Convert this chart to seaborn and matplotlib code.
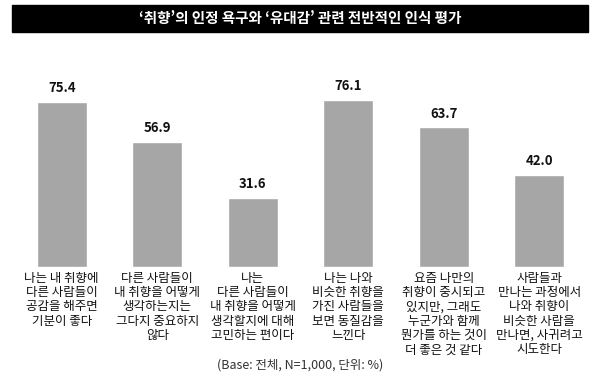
import matplotlib
matplotlib.use("Agg")
import matplotlib.pyplot as plt
import seaborn as sns
import pandas as pd
from matplotlib.patches import Rectangle

categories = [
    "나는 내 취향에\n다른 사람들이\n공감을 해주면\n기분이 좋다",
    "다른 사람들이\n내 취향을 어떻게\n생각하는지는\n그다지 중요하지\n않다",
    "나는\n다른 사람들이\n내 취향을 어떻게\n생각할지에 대해\n고민하는 편이다",
    "나는 나와\n비슷한 취향을\n가진 사람들을\n보면 동질감을\n느낀다",
    "요즘 나만의\n취향이 중시되고\n있지만, 그래도\n누군가와 함께\n뭔가를 하는 것이\n더 좋은 것 같다",
    "사람들과\n만나는 과정에서\n나와 취향이\n비슷한 사람을\n만나면, 사귀려고\n시도한다",
]
values = [75.4, 56.9, 31.6, 76.1, 63.7, 42.0]
title = "‘취향’의 인정 욕구와 ‘유대감’ 관련 전반적인 인식 평가"
footer = "(Base: 전체, N=1,000, 단위: %)"

sns.set_theme(style="white")
plt.rcParams['font.family'] = ['Noto Sans CJK KR', 'DejaVu Sans']

df = pd.DataFrame({"cat": categories, "val": values})

fig = plt.figure(figsize=(6, 3.84), dpi=100)
ax = fig.add_axes([14/600, (384-267)/384, 573/600, 219/384])
sns.barplot(data=df, x="cat", y="val", color="#A6A6A6", width=0.52,
            saturation=1, ax=ax)
ax.set_xlim(-0.5, 5.5)
ax.set_ylim(0, 100)
ax.set_xlabel("")
ax.set_ylabel("")
ax.set_yticks([])
for s in ax.spines.values():
    s.set_visible(False)
ax.tick_params(axis="x", length=0, pad=3.5)
for lbl in ax.get_xticklabels():
    lbl.set_fontsize(9)
    lbl.set_linespacing(1.13)
    lbl.set_fontweight("medium")
    lbl.set_color("#111111")

for i, v in enumerate(values):
    ax.annotate(f"{v:.1f}", (i, v), xytext=(0, 5), textcoords="offset points",
                ha="center", va="bottom", fontsize=9.5, fontweight="bold",
                color="#111111")

fig.patches.append(Rectangle((12/600, 1-32/384), 576/600, 27/384,
                             transform=fig.transFigure, color="black",
                             zorder=0))
fig.text(0.5, 1-18.5/384, title, ha="center", va="center", color="white",
         fontsize=10.5, fontweight="bold")
fig.text(0.5, 1-365/384, footer, ha="center", va="center", color="#333333",
         fontsize=9)

fig.savefig("out.png", dpi=100)
